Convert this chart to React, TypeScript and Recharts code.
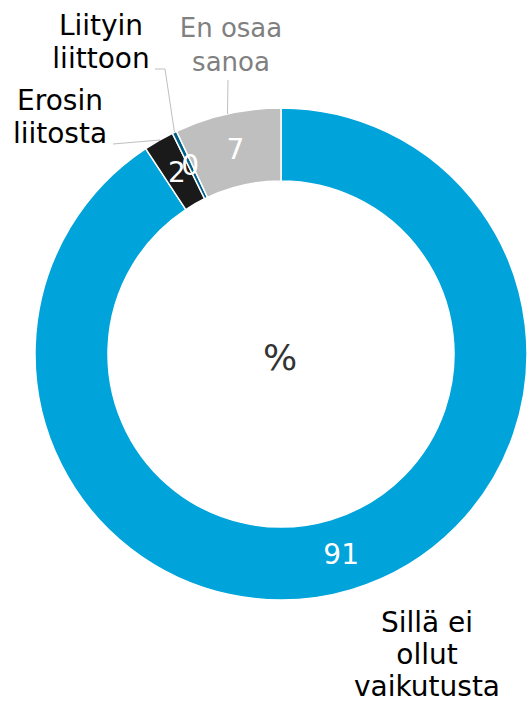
import { PieChart, Pie, Cell } from 'recharts';

// Categories (clockwise from 12 o'clock) and their shares in %
const categories = [
  'Sillä ei\nollut\nvaikutusta',
  'Erosin\nliitosta',
  'Liityin\nliittoon',
  'En osaa\nsanoa',
];
const values = [91, 2, 0.3, 7];
const colors = ['#00A3DA', '#1A1A1A', '#00628B', '#BFBFBF'];
const labelColors = ['#000000', '#000000', '#000000', '#808080'];

const data = categories.map((name, i) => ({ name, value: values[i] }));

// where the outside category labels sit, and where their leader line starts
const labelLayout = [
  { x: 427, y: 632, size: 28, lh: 32, leader: [] as number[][] },
  { x: 60, y: 110, size: 28, lh: 33, leader: [[113, 144], [160, 140]] },
  { x: 101, y: 35, size: 28, lh: 33, leader: [[155, 69], [165, 69]] },
  { x: 231, y: 37, size: 26, lh: 34, leader: [[228, 80]] },
];

const RADIAN = Math.PI / 180;

const renderLabel = (props: any) => {
  const { cx, cy, midAngle, innerRadius, outerRadius, index, value } = props;
  const rMid = (innerRadius + outerRadius) / 2;
  const vx = cx + rMid * Math.cos(-midAngle * RADIAN);
  const vy = cy + rMid * Math.sin(-midAngle * RADIAN);
  const ex = cx + outerRadius * Math.cos(-midAngle * RADIAN);
  const ey = cy + outerRadius * Math.sin(-midAngle * RADIAN);
  const lay = labelLayout[index];
  const lines = categories[index].split('\n');
  const pts = lay.leader.length ? [...lay.leader, [ex, ey]] : [];
  return (
    <g>
      <text
        x={vx}
        y={vy}
        fill='#ffffff'
        fontSize={28}
        textAnchor='middle'
        dominantBaseline='central'
      >
        {Math.round(value)}
      </text>
      {pts.length > 0 && (
        <polyline
          points={pts.map((p) => p.join(',')).join(' ')}
          fill='none'
          stroke='#BFBFBF'
          strokeWidth={1}
        />
      )}
      <text
        x={lay.x}
        y={lay.y}
        fill={labelColors[index]}
        fontSize={lay.size}
        textAnchor='middle'
      >
        {lines.map((l, i) => (
          <tspan key={i} x={lay.x} y={lay.y + i * lay.lh}>
            {l}
          </tspan>
        ))}
      </text>
    </g>
  );
};

export default function App() {
  return (
    <div style={{ position: 'absolute', left: 0, top: 0, fontFamily: 'DejaVu Sans' }}>
      <PieChart width={528} height={703} margin={{ top: 0, right: 0, bottom: 0, left: 0 }}>
        <Pie
          data={data}
          dataKey='value'
          cx={281}
          cy={354}
          innerRadius={173}
          outerRadius={246}
          startAngle={90}
          endAngle={-270}
          stroke='#ffffff'
          strokeWidth={1.5}
          label={renderLabel}
          labelLine={false}
          isAnimationActive={false}
        >
          {data.map((d, i) => (
            <Cell key={d.name} fill={colors[i]} />
          ))}
        </Pie>
        <text x={280} y={370} fontSize={36} fill='#333333' textAnchor='middle'>
          %
        </text>
      </PieChart>
    </div>
  );
}
